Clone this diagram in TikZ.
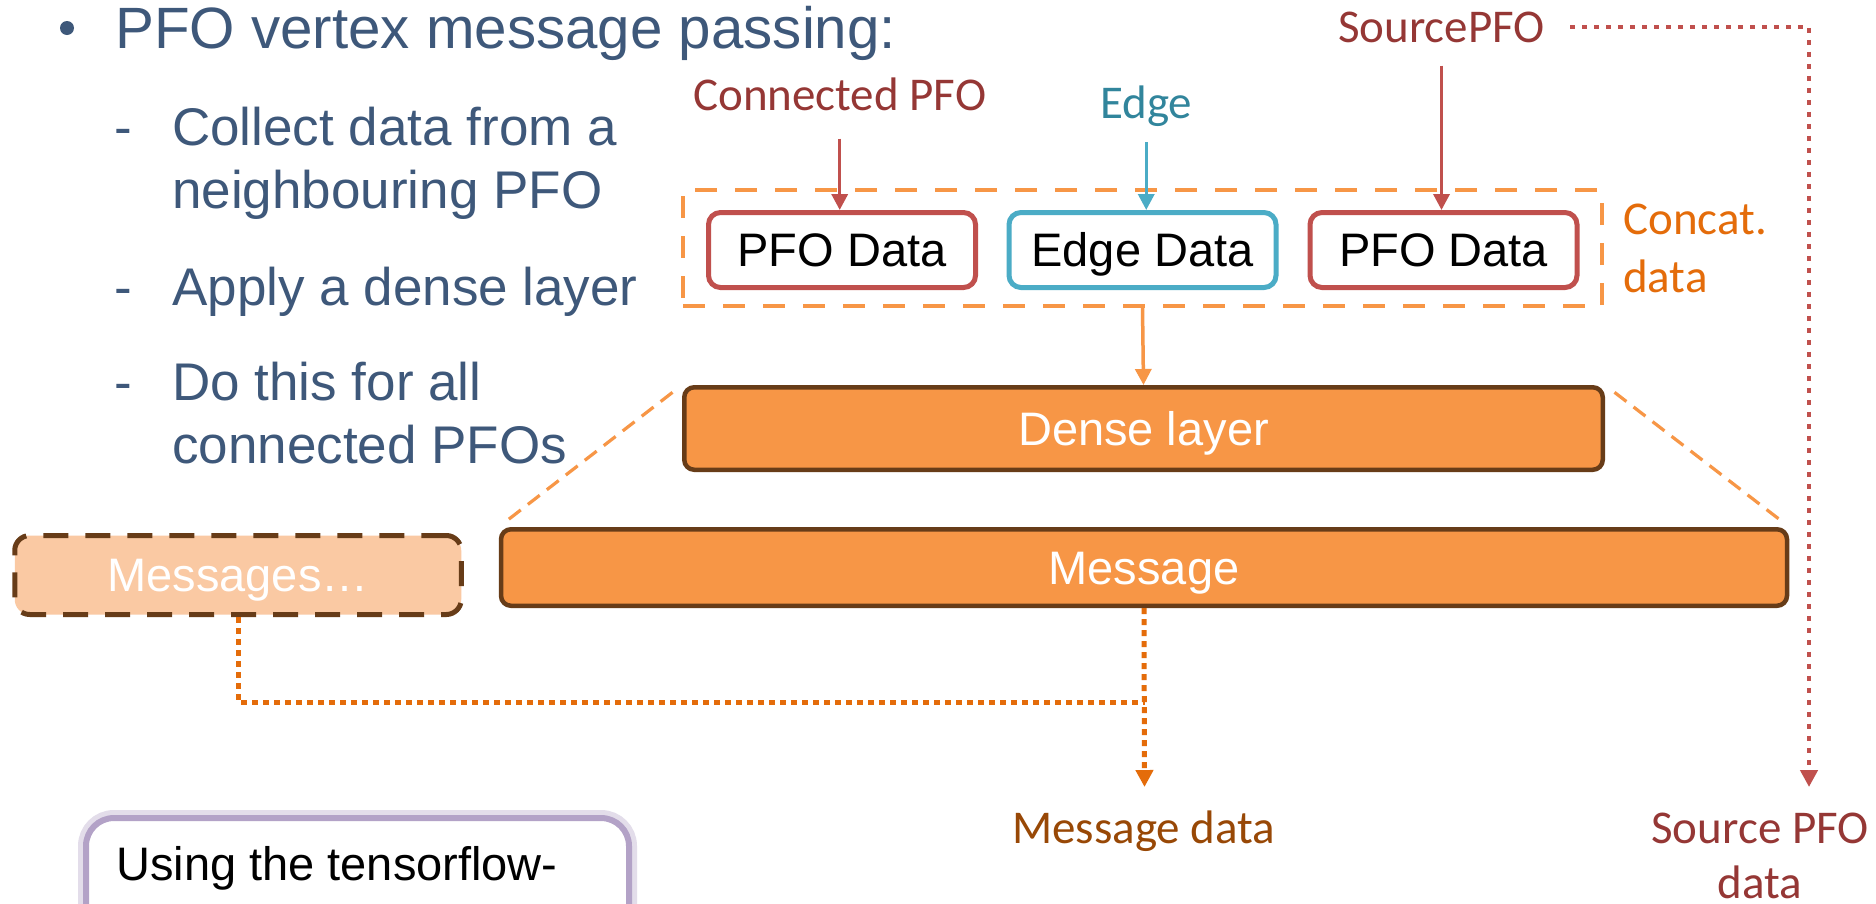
\documentclass[tikz,border=0pt]{standalone}
\usepackage{fontspec}
\setmainfont{Liberation Sans}
\newfontfamily\calfont{Carlito}
\usetikzlibrary{arrows.meta}
\definecolor{titleblue}{RGB}{62,88,122}
\definecolor{pfored}{RGB}{192,80,77}
\definecolor{darkred}{RGB}{149,55,53}
\definecolor{tealc}{RGB}{75,172,198}
\definecolor{tealtext}{RGB}{49,133,156}
\definecolor{orangefill}{RGB}{247,150,70}
\definecolor{orangetext}{RGB}{228,108,10}
\definecolor{brownc}{RGB}{103,60,24}
\definecolor{msgtext}{RGB}{152,72,6}
\definecolor{peach}{RGB}{250,201,163}
\definecolor{lavender}{RGB}{179,162,199}
\begin{document}
\begin{tikzpicture}[x=1pt,y=-1pt,
  bigtext/.style={font=\fontsize{53}{63}\selectfont, text=titleblue, inner sep=0, anchor=base west},
  lbl/.style={font=\calfont\fontsize{47}{57}\selectfont, inner sep=0},
  databox/.style={draw, line width=5pt, rounded corners=12pt, fill=white, minimum width=267pt, minimum height=75pt, inner sep=0, text height=33.7pt, text depth=0pt, font=\fontsize{47}{56}\selectfont},
  layerbox/.style={draw=brownc, fill=orangefill, line width=4.5pt, rounded corners=10pt, inner sep=0, text height=33.7pt, text depth=0pt, text=white, font=\fontsize{47}{56}\selectfont},
  arr/.style={line width=3.5pt, -{Triangle[length=16pt,width=16pt]}},
  dotline/.style={line width=5pt, dash pattern=on 6pt off 5pt},
  trap/.style={orangefill, line width=3.2pt, dash pattern=on 15pt off 9pt},
]
\useasboundingbox (0,0) rectangle (1876,903);
\clip (0,0) rectangle (1876,903);
\fill[white] (0,0) rectangle (1876,903);

% title and bullet list
\fill[titleblue] (67,28) circle [radius=7];
\node[inner sep=0, anchor=base west, text=titleblue, font=\fontsize{58.3}{68}\selectfont] (title) at (115,48) {PFO vertex message passing:};
\node[bigtext] (d1) at (114,145) {-};
\node[bigtext] (t1a) at (172,145) {Collect data from a};
\node[bigtext] (t1b) at (172,208) {neighbouring PFO};
\node[bigtext] (d2) at (114,305) {-};
\node[bigtext] (t2) at (172,305) {Apply a dense layer};
\node[bigtext] (d3) at (114,400) {-};
\node[bigtext] (t3a) at (172,400) {Do this for all};
\node[bigtext] (t3b) at (172,463) {connected PFOs};

% labels
\node[lbl, text=darkred, anchor=base west] (conn) at (693,110) {Connected PFO};
\node[lbl, text=tealtext, anchor=base west] (edge) at (1100,118) {Edge};
\node[lbl, text=darkred, anchor=base west] (src) at (1338,42) {SourcePFO};
\node[lbl, text=orangetext, anchor=base west] (cc1) at (1623,234) {Concat.};
\node[lbl, text=orangetext, anchor=base west] (cc2) at (1623,292) {data};

% concat box
\node[draw=orangefill, line width=4pt, dash pattern=on 22pt off 18pt, minimum width=919pt, minimum height=116pt, inner sep=0] (concat) at (1142.5,248) {};

% data boxes
\node[databox, draw=pfored] (pfo1) at (842,250) {PFO Data};
\node[databox, draw=tealc] (edata) at (1142.5,250) {Edge Data};
\node[databox, draw=pfored] (pfo2) at (1443.5,250) {PFO Data};

% layers
\node[layerbox, minimum width=918.5pt, minimum height=82.5pt] (dense) at (1143.5,428.5) {Dense layer};
\node[layerbox, minimum width=1286pt, minimum height=76.5pt] (msg) at (1144,567.5) {Message};
\node[layerbox, fill=peach, dash pattern=on 25pt off 17pt, line width=5pt, rounded corners=15pt, minimum width=446.5pt, minimum height=79pt] (msgs) at (238,575) {Messages\ldots};

% trapezoid
\draw[trap, shorten <=12pt, shorten >=10pt] (dense.north west) -- (msg.north west);
\draw[trap, shorten <=12pt, shorten >=10pt] (dense.north east) -- (msg.north east);

% arrows into boxes
\draw[arr, pfored, shorten <=28pt] (conn.south) -- (conn.south |- pfo1.north);
\draw[arr, tealc, shorten <=16pt] (edge.south) -- (edge.south |- edata.north);
\draw[arr, pfored, shorten <=23pt] (src.south) -- (src.south |- pfo2.north);
\draw[arr, orangefill] (concat.south) -- (dense.north);

% dotted outputs
\coordinate (join) at (1144.5,702);
\coordinate (msgtip) at (1144.5,787);
\coordinate (srctip) at (1809,787);
\draw[dotline, orangetext] (msgs.south) |- (join);
\draw[dotline, orangetext, -{Triangle[length=17pt,width=17pt]}] (msg.south) -- (msgtip);
\draw[dotline, pfored, line width=4.5pt, dash pattern=on 5pt off 7pt, shorten <=25pt, -{Triangle[length=17pt,width=17pt]}] (src.east) -| (srctip);

\node[lbl, text=msgtext, anchor=base west] (msgdata) at (1012,843) {Message data};
\node[lbl, text=darkred, anchor=base] (sd1) at (1760,843) {Source PFO};
\node[lbl, text=darkred, anchor=base] (sd2) at (1760,898) {data};

% tensorflow box
\node[draw=lavender, line width=6pt, rounded corners=28pt, fill=white, minimum width=543pt, minimum height=250pt, anchor=north west, inner sep=0,
  preaction={draw=lavender!60, line width=16pt, opacity=0.6}] (tfbox) at (83,815) {};
\node[inner sep=0, anchor=base west, font=\fontsize{47}{56}\selectfont] (tftext) at (116,880) {Using the tensorflow-};
\end{tikzpicture}
\end{document}
